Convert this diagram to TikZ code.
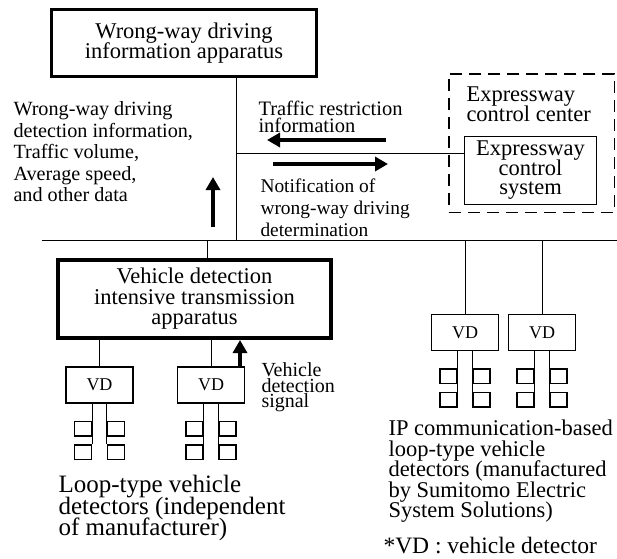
\documentclass[tikz,border=0pt]{standalone}
\usepackage{fontspec}
\setmainfont{Liberation Serif}
\usetikzlibrary{positioning,arrows.meta}

\newcommand{\sizedfont}[2]{\fontsize{#1}{#2}\selectfont\lineskiplimit=-50pt\relax}
\newcommand{\boxfont}{\sizedfont{22.5}{20.5}}

\begin{document}
\begin{tikzpicture}[x=1pt,y=-1pt,on grid,line width=1pt,
    heavybox/.style={draw,line width=3pt,align=center,inner sep=0pt,font=\boxfont},
    plainbox/.style={draw,line width=1.4pt,align=center,inner sep=0pt,font=\boxfont},
    vdbox/.style={draw,line width=1.2pt,minimum width=67pt,minimum height=36pt,inner sep=0pt,font=\sizedfont{18}{18}},
    loopbox/.style={draw,line width=1.4pt,minimum width=17pt,minimum height=14.5pt,inner sep=0pt},
    note/.style={align=left,inner sep=0pt,anchor=north west},
    flow/.style={-{Triangle[length=13pt,width=14pt]},line width=3.5pt}]
   \useasboundingbox (0,0) rectangle (617,558);
   % boxes
   \node[draw,line width=1.5pt,dash pattern=on 12pt off 7pt,minimum width=165.5pt,minimum height=138.5pt] (ecc) at (531.5,143) {};
   \node[heavybox,minimum width=265pt,minimum height=67pt] (wwinfo) at (184,43) {Wrong-way driving\\information apparatus};
   \node[heavybox,line width=4pt,minimum width=273pt,minimum height=78pt] (vdit) at (194.5,299) {Vehicle detection\\intensive transmission\\apparatus};
   \node[plainbox,minimum width=131.5pt,minimum height=67.5pt,font=\sizedfont{22.5}{19.5}] (ecs) at (530.5,170.5) {Expressway\\control\\system};
   \node[vdbox] (vd1) at (99.5,385) {VD};
   \node[vdbox] (vd2) [right=111.5pt of vd1] {VD};
   \node[vdbox] (vd3) at (465,332.5) {VD};
   \node[vdbox] (vd4) [right=77pt of vd3] {VD};
   % loop sensors
   \node[loopbox] (vd1a) [below left=43.75pt and 16.5pt of vd1] {};
   \node[loopbox] (vd1b) [below=23.5pt of vd1a] {};
   \node[loopbox] (vd1c) [right=33pt of vd1a] {};
   \node[loopbox] (vd1d) [below=23.5pt of vd1c] {};
   \node[loopbox] (vd2a) [below left=43.75pt and 16.5pt of vd2] {};
   \node[loopbox] (vd2b) [below=23.5pt of vd2a] {};
   \node[loopbox] (vd2c) [right=33pt of vd2a] {};
   \node[loopbox] (vd2d) [below=23.5pt of vd2c] {};
   \node[loopbox] (vd3a) [below left=43.75pt and 16.5pt of vd3] {};
   \node[loopbox] (vd3b) [below=23.5pt of vd3a] {};
   \node[loopbox] (vd3c) [right=33pt of vd3a] {};
   \node[loopbox] (vd3d) [below=23.5pt of vd3c] {};
   \node[loopbox] (vd4a) [below left=43.75pt and 16.5pt of vd4] {};
   \node[loopbox] (vd4b) [below=23.5pt of vd4a] {};
   \node[loopbox] (vd4c) [right=33pt of vd4a] {};
   \node[loopbox] (vd4d) [below=23.5pt of vd4c] {};
   % labels
   \node[note,font=\boxfont] (ecclabel) at (466,86) {Expressway\\control center};
   \node[note,font=\sizedfont{20.2}{21.5}] (datalabel) at (13,101) {Wrong-way driving\\detection information,\\Traffic volume,\\Average speed,\\and other data};
   \node[note,font=\sizedfont{20.5}{16.5}] (trlabel) at (258,101) {Traffic restriction\\information};
   \node[note,font=\sizedfont{19.4}{22}] (notlabel) at (260,178) {Notification of\\wrong-way driving\\determination};
   \node[note,font=\sizedfont{20}{15.5}] (siglabel) at (261,362.5) {Vehicle\\detection\\signal};
   \node[note,font=\sizedfont{25}{21.5}] (looplabel) at (58,475) {Loop-type vehicle\\detectors (independent\\of manufacturer)};
   \node[note,font=\boxfont] (iplabel) at (388,419.5) {IP communication-based\\loop-type vehicle\\detectors (manufactured\\by Sumitomo Electric\\System Solutions)};
   \node[note,font=\sizedfont{23.5}{23.5}] (vdnote) at (383,537) {*VD : vehicle detector};
   % lines
   \coordinate (busL) at (42,240);
   \coordinate (busR) at (617,240);
   \coordinate (tapA) at (236,240);
   \coordinate (tapB) at (236,153);
   \coordinate (tapC) at (207.5,240);
   \draw (busL) -- (busR);
   \draw (wwinfo.south -| tapA) -- (tapA);
   \draw (tapB) -- (tapB -| ecs.west);
   \draw (tapC) -- (tapC |- vdit.north);
   \draw (vdit.south -| vd1.north) -- (vd1.north);
   \draw (vdit.south -| vd2.north) -- (vd2.north);
   \draw (vd3.north |- busL) -- (vd3.north);
   \draw (vd4.north |- busL) -- (vd4.north);
   \draw (vd1.south -| vd1b.north east) -- (vd1b.north east);
   \draw (vd1.south -| vd1d.north west) -- (vd1d.north west);
   \draw (vd2.south -| vd2b.north east) -- (vd2b.north east);
   \draw (vd2.south -| vd2d.north west) -- (vd2d.north west);
   \draw (vd3.south -| vd3b.north east) -- (vd3b.north east);
   \draw (vd3.south -| vd3d.north west) -- (vd3d.north west);
   \draw (vd4.south -| vd4b.north east) -- (vd4b.north east);
   \draw (vd4.south -| vd4d.north west) -- (vd4d.north west);
   % data flows
   \coordinate (trS) at (386,140);
   \coordinate (trE) at (267,140);
   \coordinate (ntS) at (273,164);
   \coordinate (ntE) at (388,164);
   \coordinate (upS) at (213,227);
   \coordinate (upE) at (213,177);
   \draw[flow] (trS) -- (trE);
   \draw[flow] (ntS) -- (ntE);
   \draw[flow] (upS) -- (upE);
   \draw[flow] ([xshift=29pt]vd2.north) -- ([xshift=29pt]vd2.north |- vdit.south);
\end{tikzpicture}
\end{document}
